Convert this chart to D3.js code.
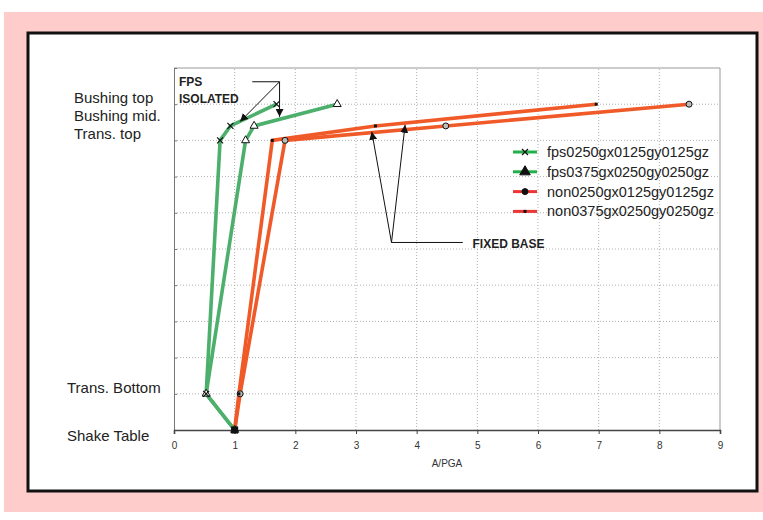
<!DOCTYPE html>
<html>
<head>
<meta charset="utf-8">
<script src="https://cdn.jsdelivr.net/npm/d3@7"></script>
<style>
  body { margin: 0; background: #fff; }
  text { font-family: "Liberation Sans", Arial, sans-serif; }
</style>
</head>
<body>
<svg id="chart"></svg>
<script>
// levels of the structure (y) and the labels shown at left
const levels = [0, 1, 8, 8.4, 9];
const levelLabels = ["Shake Table", "Trans. Bottom", "Trans. top", "Bushing mid.", "Bushing top"];

// A/PGA at each level, one array per run
const fps0250 = [1.0, 0.53, 0.76, 0.93, 1.69];
const fps0375 = [1.0, 0.53, 1.18, 1.32, 2.69];
const non0250 = [1.0, 1.09, 1.83, 4.48, 8.49];
const non0375 = [1.0, 1.07, 1.62, 3.32, 6.96];

const seriesNames = ["fps0250gx0125gy0125gz", "fps0375gx0250gy0250gz",
                     "non0250gx0125gy0125gz", "non0375gx0250gy0250gz"];
const xTicks = [0, 1, 2, 3, 4, 5, 6, 7, 8, 9];

const width = 763, height = 520;
const svg = d3.select("#chart").attr("width", width).attr("height", height);

const green = "#4cb06c", orange = "#f05a28";

// background panels
svg.append("rect").attr("x", 4).attr("y", 12).attr("width", 759).attr("height", 500).attr("fill", "#ffcccc");
svg.append("rect").attr("x", 28).attr("y", 33).attr("width", 729).attr("height", 458)
    .attr("fill", "#fff").attr("stroke", "#111").attr("stroke-width", 3);

const x = d3.scaleLinear().domain([0, 9]).range([174, 720]);
const y = d3.scaleLinear().domain([0, 10]).range([430, 68]);

// grid
const grid = svg.append("g").attr("stroke", "#b0b0b0").attr("stroke-dasharray", "1,2").attr("stroke-width", 1);
grid.selectAll(".gx").data(xTicks.slice(1, -1)).enter().append("line")
    .attr("x1", d => x(d)).attr("x2", d => x(d)).attr("y1", y(0)).attr("y2", y(10));
grid.selectAll(".gy").data(d3.range(1, 10)).enter().append("line")
    .attr("x1", x(0)).attr("x2", x(9)).attr("y1", d => y(d)).attr("y2", d => y(d));

// frame top/right
svg.append("path").attr("d", `M${x(0)},${y(10)}H${x(9)}V${y(0)}`)
    .attr("fill", "none").attr("stroke", "#999").attr("stroke-width", 1);

// left axis (ticks inward, no labels)
svg.append("g").attr("transform", `translate(${x(0)},0)`)
    .call(d3.axisRight(y).tickValues(d3.range(0, 11)).tickSize(3).tickFormat(""))
    .call(g => g.select(".domain").attr("stroke", "#777"))
    .call(g => g.selectAll(".tick line").attr("stroke", "#777"));

// bottom axis
svg.append("g").attr("transform", `translate(0,${y(0)})`)
    .call(d3.axisBottom(x).tickValues(xTicks).tickSize(4).tickPadding(8).tickFormat(d3.format("d")))
    .call(g => g.select(".domain").attr("stroke", "#444").attr("stroke-width", 1.6))
    .call(g => g.selectAll(".tick line").attr("stroke", "#444"))
    .call(g => g.selectAll(".tick text").attr("fill", "#333").attr("font-size", 10)
        .attr("font-family", "Liberation Sans, Arial, sans-serif"));

svg.append("text").attr("x", (x(0) + x(9)) / 2).attr("y", 467).attr("text-anchor", "middle")
    .attr("font-size", 10).attr("fill", "#333").text("A/PGA");

// level labels
const labelY = [441, 393, y(8) - 1, y(8) - 19, y(8) - 37];
svg.selectAll(".lvl").data(levelLabels).enter().append("text")
    .attr("x", (d, i) => i < 2 ? 67 : 74)
    .attr("y", (d, i) => labelY[i])
    .attr("font-size", 15).attr("fill", "#222").text(d => d);

// series
const series = [
  {vals: fps0250, color: green, mark: "x"},
  {vals: fps0375, color: green, mark: "tri"},
  {vals: non0250, color: orange, mark: "circ"},
  {vals: non0375, color: orange, mark: "sq"}
];
const line = d3.line().x(d => x(d[0])).y(d => y(d[1]));

function drawMark(g, type, cx, cy, legend) {
  if (type === "x") {
    g.append("path").attr("d", `M${cx - 3},${cy - 3}L${cx + 3},${cy + 3}M${cx - 3},${cy + 3}L${cx + 3},${cy - 3}`)
        .attr("stroke", "#111").attr("stroke-width", 1.2);
  } else if (type === "tri") {
    g.append("path").attr("d", d3.symbol(d3.symbolTriangle, legend ? 48 : 28)())
        .attr("transform", `translate(${cx},${cy})`)
        .attr("fill", legend ? "#111" : "#fff").attr("stroke", "#111").attr("stroke-width", 1);
  } else if (type === "circ") {
    g.append("circle").attr("cx", cx).attr("cy", cy).attr("r", 3)
        .attr("fill", legend ? "#111" : "#bbb").attr("stroke", "#111").attr("stroke-width", 1);
  } else {
    g.append("rect").attr("x", cx - 1.5).attr("y", cy - 1.5).attr("width", 3).attr("height", 3).attr("fill", "#111");
  }
}

series.forEach(s => {
  const pts = s.vals.map((v, i) => [v, levels[i]]);
  svg.append("path").datum(pts).attr("d", line)
      .attr("fill", "none").attr("stroke", s.color).attr("stroke-width", 3.6).attr("stroke-linejoin", "round");
});
// marks: triangles first so the crosses sit on top where they share a point
[1, 0, 2, 3].forEach(k => {
  const s = series[k];
  const g = svg.append("g");
  s.vals.forEach((v, i) => drawMark(g, s.mark, x(v), y(levels[i]), false));
});
// shake table base marker
svg.append("rect").attr("x", x(1) - 3.5).attr("y", y(0) - 3.5).attr("width", 7).attr("height", 7).attr("fill", "#111");

// legend
const legendColors = ["#22b04a", "#22b04a", "#ee3535", "#ee3535"];
const leg = svg.append("g");
seriesNames.forEach((name, i) => {
  const ly = 152 + i * 19.8;
  const g = leg.append("g");
  g.append("line").attr("x1", 513).attr("x2", 537).attr("y1", ly).attr("y2", ly)
      .attr("stroke", legendColors[i]).attr("stroke-width", 3);
  drawMark(g, series[i].mark, 525, ly, true);
  g.append("text").attr("x", 547).attr("y", ly + 5).attr("font-size", 14.5).attr("fill", "#222").text(name);
});

// annotations
const defs = svg.append("defs");
defs.append("marker").attr("id", "arr").attr("viewBox", "0 0 10 10").attr("refX", 10).attr("refY", 5)
    .attr("markerWidth", 8).attr("markerHeight", 8).attr("markerUnits", "userSpaceOnUse").attr("orient", "auto")
    .append("path").attr("d", "M0,0L10,5L0,10z").attr("fill", "#111");

const ann = svg.append("g").attr("stroke", "#111").attr("stroke-width", 1).attr("fill", "none");
// FPS isolated
ann.append("line").attr("x1", x(1.29)).attr("x2", x(1.74)).attr("y1", y(9.62)).attr("y2", y(9.62));
ann.append("line").attr("x1", x(1.74)).attr("y1", y(9.62)).attr("x2", x(1.09)).attr("y2", y(8.52)).attr("marker-end", "url(#arr)");
ann.append("line").attr("x1", x(1.74)).attr("y1", y(9.62)).attr("x2", x(1.74)).attr("y2", y(8.65)).attr("marker-end", "url(#arr)");
// fixed base
ann.append("line").attr("x1", x(3.585)).attr("x2", x(4.76)).attr("y1", y(5.18)).attr("y2", y(5.18));
ann.append("line").attr("x1", x(3.585)).attr("y1", y(5.18)).attr("x2", x(3.26)).attr("y2", y(8.24)).attr("marker-end", "url(#arr)");
ann.append("line").attr("x1", x(3.585)).attr("y1", y(5.18)).attr("x2", x(3.81)).attr("y2", y(8.43)).attr("marker-end", "url(#arr)");

svg.append("text").attr("x", 179).attr("y", 86).attr("font-size", 12).attr("font-weight", "bold").attr("fill", "#222").text("FPS");
svg.append("text").attr("x", 179).attr("y", 102.5).attr("font-size", 12).attr("font-weight", "bold").attr("fill", "#222").text("ISOLATED");
svg.append("text").attr("x", x(4.92)).attr("y", 247.5).attr("font-size", 12).attr("font-weight", "bold").attr("fill", "#222").text("FIXED BASE");
</script>
</body>
</html>
